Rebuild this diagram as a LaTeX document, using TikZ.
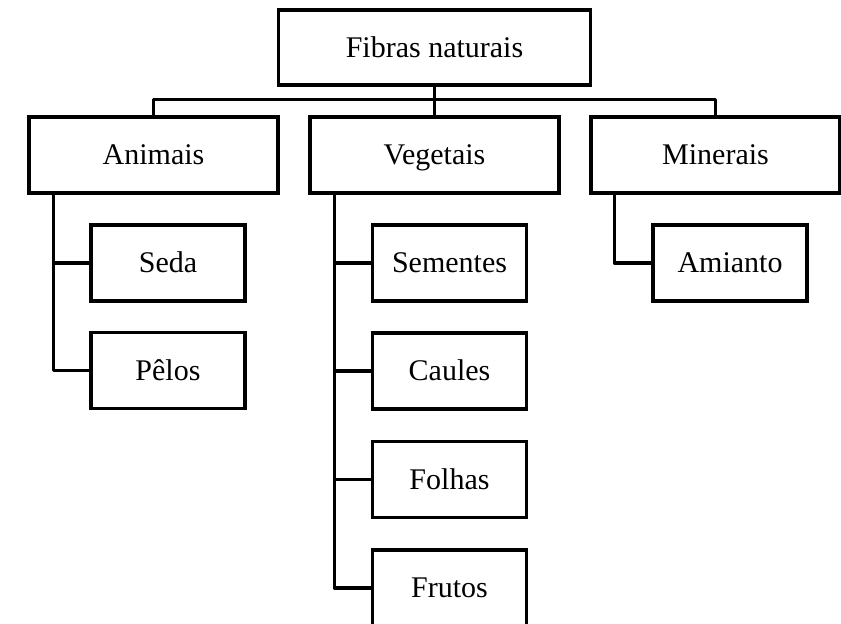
\documentclass[tikz,border=0pt]{standalone}
\usepackage{fontspec}
\setmainfont{Liberation Serif}
\usepackage{tikz}
\usetikzlibrary{calc}
\tikzset{
	box/.style={draw, line width=1.6pt, inner sep=0pt, text height=11pt, text depth=1pt,
		font=\fontsize{15}{18}\selectfont},
	toplevel/.style={box, minimum width=156pt, minimum height=37.5pt},
	group/.style={box, minimum width=124.5pt, minimum height=38pt},
	leaf/.style={box, minimum width=77pt, minimum height=38pt},
	wire/.style={line width=1.7pt, line join=round}
}

\begin{document}
\begin{tikzpicture}[x=0.5pt, y=-0.5pt]
\useasboundingbox (0,0) rectangle (841,624);
\clip (0,0) rectangle (841,624);
% root
\node[toplevel] (fibras) at (434.5,47.5) {Fibras naturais};
% groups
\node[group] (animais) at (153.5,155) {Animais};
\node[group] (vegetais) at (434.5,155) {Vegetais};
\node[group] (minerais) at (715.5,155) {Minerais};
% leaves
\node[leaf] (seda) at (168,263) {Seda};
\node[leaf] (pelos) at (168,370.5) {Pêlos};
\node[leaf] (sementes) at (449.5,263) {Sementes};
\node[leaf] (caules) at (449.5,371) {Caules};
\node[leaf] (folhas) at (449.5,479.5) {Folhas};
\node[leaf] (frutos) at (449.5,588) {Frutos};
\node[leaf] (amianto) at (730,263) {Amianto};
% root to groups
\draw[wire] (animais.north) -- ++(0,-16) -| (minerais.north);
\draw[wire] (fibras.south) -- (vegetais.north);
% trunks
\coordinate (atrunk) at ($(animais.south west)+(26,0)$);
\coordinate (vtrunk) at ($(vegetais.south west)+(26,0)$);
\coordinate (mtrunk) at ($(minerais.south west)+(25,0)$);
\draw[wire] (atrunk) |- (pelos.west);
\draw[wire] (atrunk |- seda.west) -- (seda.west);
\draw[wire] (vtrunk) |- (frutos.west);
\foreach \leaf in {sementes, caules, folhas}
	\draw[wire] (vtrunk |- \leaf.west) -- (\leaf.west);
\draw[wire] (mtrunk) |- (amianto.west);
\end{tikzpicture}
\end{document}
